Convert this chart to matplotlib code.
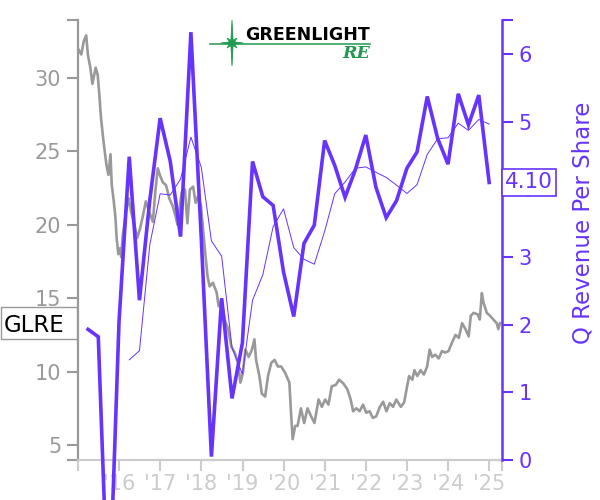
import numpy as np
import pandas as pd
import matplotlib
matplotlib.use("Agg")
import matplotlib.pyplot as plt
from matplotlib.patches import Polygon, Rectangle
from matplotlib.transforms import blended_transform_factory

# ---------------- data ----------------
ticker = "GLRE"

# closing price (decimal year, price)
price_dates = [
    2015.00, 2015.08, 2015.14, 2015.20, 2015.24, 2015.30, 2015.35, 2015.43, 2015.48, 2015.52,
    2015.56, 2015.62, 2015.69, 2015.74, 2015.79, 2015.82, 2015.87, 2015.91, 2015.94, 2015.98,
    2016.02, 2016.05, 2016.09, 2016.17, 2016.23, 2016.29, 2016.37, 2016.44, 2016.51, 2016.57,
    2016.65, 2016.73, 2016.82, 2016.88, 2016.94, 2016.99, 2017.06, 2017.14, 2017.22, 2017.30,
    2017.38, 2017.42, 2017.48, 2017.52, 2017.60, 2017.66, 2017.72, 2017.80, 2017.86, 2017.92,
    2017.99, 2018.04, 2018.10, 2018.15, 2018.20, 2018.28, 2018.37, 2018.42, 2018.49, 2018.57,
    2018.65, 2018.73, 2018.81, 2018.89, 2018.95, 2019.01, 2019.07, 2019.15, 2019.23, 2019.29,
    2019.33, 2019.41, 2019.47, 2019.55, 2019.62, 2019.70, 2019.78, 2019.86, 2019.94, 2020.04,
    2020.14, 2020.18, 2020.22, 2020.28, 2020.34, 2020.42, 2020.50, 2020.58, 2020.67, 2020.75,
    2020.85, 2020.93, 2021.01, 2021.09, 2021.17, 2021.27, 2021.35, 2021.45, 2021.55, 2021.63,
    2021.69, 2021.77, 2021.85, 2021.93, 2022.01, 2022.09, 2022.17, 2022.25, 2022.34, 2022.42,
    2022.50, 2022.58, 2022.66, 2022.74, 2022.85, 2022.93, 2022.99, 2023.05, 2023.13, 2023.18,
    2023.25, 2023.33, 2023.41, 2023.49, 2023.55, 2023.61, 2023.69, 2023.77, 2023.85, 2023.93,
    2024.01, 2024.09, 2024.18, 2024.26, 2024.34, 2024.42, 2024.50, 2024.55, 2024.62, 2024.72,
    2024.77, 2024.82, 2024.86, 2024.94, 2025.02, 2025.10, 2025.18, 2025.22, 2025.26,
]
price_values = [
    32.0, 31.6, 32.5, 32.9, 31.6, 30.7, 29.6, 30.7, 30.2, 28.8,
    27.25, 25.7, 24.1, 23.4, 24.8, 22.75, 21.6, 20.5, 19.1, 18.0,
    18.4, 17.8, 19.3, 20.9, 21.8, 20.9, 20.0, 19.1, 19.75, 20.5,
    21.6, 20.9, 20.2, 22.25, 23.85, 23.4, 22.9, 22.7, 21.8, 21.3,
    20.5, 20.0, 21.3, 22.2, 22.4, 20.1, 22.4, 22.6, 21.5, 21.95,
    21.3, 19.7, 17.9, 16.5, 15.8, 16.05, 15.4, 14.45, 14.9, 13.5,
    12.9, 11.7, 11.3, 10.6, 9.25, 9.9, 11.5, 11.0, 11.5, 12.2,
    10.8, 9.7, 8.5, 8.3, 9.7, 10.6, 10.8, 10.35, 10.35, 9.9,
    9.25, 7.2, 5.4, 6.3, 6.3, 7.5, 6.5, 7.5, 6.95, 6.5,
    8.1, 7.6, 8.1, 7.75, 9.0, 9.1, 9.45, 9.2, 8.8, 8.1,
    7.3, 7.5, 7.3, 7.75, 7.2, 7.3, 6.85, 6.95, 7.6, 7.95,
    7.3, 7.85, 7.6, 8.1, 7.6, 7.9, 8.8, 9.7, 9.45, 10.1,
    9.7, 10.1, 9.8, 10.35, 11.5, 11.0, 11.15, 10.9, 11.4, 11.3,
    11.4, 11.95, 12.5, 12.3, 13.3, 12.9, 12.4, 13.8, 14.0, 13.9,
    13.55, 15.35, 14.7, 14.0, 13.8, 13.55, 13.3, 12.9, 13.3,
]

# quarterly revenue per share (quarter ends Mar 2015 .. Dec 2024)
quarter_ends = pd.date_range("2015-03-31", "2024-12-31", freq="QE")
q_revenue = [
    1.93, 1.82, -2.42, 2.04,
    4.48, 2.36, 3.84, 5.05,
    4.41, 3.30, 6.32, 3.28,
    0.05, 2.39, 0.91, 1.73,
    4.41, 3.89, 3.76, 2.78,
    2.12, 3.20, 3.47, 4.72,
    4.35, 3.88, 4.29, 4.80,
    4.03, 3.58, 3.83, 4.31,
    4.55, 5.37, 4.75, 4.37,
    5.41, 4.95, 5.39, 4.10,
]

year_ticks = [2016, 2017, 2018, 2019, 2020, 2021, 2022, 2023, 2024, 2025]
year_labels = ["'16", "'17", "'18", "'19", "'20", "'21", "'22", "'23", "'24", "'25"]
left_ticks = [5, 10, 15, 20, 25, 30]
right_ticks = [0, 1, 2, 3, 4, 5, 6]

# ---------------- styling ----------------
PURPLE = "#6633ff"
GREY = "#999999"
LIGHT = "#cccccc"
GREEN = "#1f9a4f"

x_min, x_max = 2015.0, 2025.31
yl_min, yl_max = 3.98, 33.95
yr_min, yr_max = 0.0, 6.5

def to_decimal_year(ts):
    ts = pd.DatetimeIndex(ts)
    start = pd.to_datetime(ts.year.astype(str) + "-01-01")
    end = pd.to_datetime((ts.year + 1).astype(str) + "-01-01")
    return ts.year + (ts - start) / (end - start)

q_x = np.asarray(to_decimal_year(quarter_ends), dtype=float)
q_ser = pd.Series(q_revenue)
q_avg = q_ser.rolling(4).mean()

fig = plt.figure(figsize=(6, 5), dpi=100)
ax = fig.add_axes([78 / 600, 40 / 500, 424 / 600, 440 / 500])
ax2 = ax.twinx()

ax.plot(price_dates, price_values, color=GREY, lw=1.9, zorder=2)
ax2.plot(q_x[4:], q_avg.values[4:], color=PURPLE, lw=0.7)
ax2.plot(q_x, q_revenue, color=PURPLE, lw=2.6, clip_on=False, solid_joinstyle="miter")

ax.set_xlim(x_min, x_max)
ax.set_ylim(yl_min, yl_max)
ax2.set_ylim(yr_min, yr_max)

# ticks (including ends of axes, unlabeled)
ax.set_xticks([x_min] + year_ticks + [x_max])
ax.set_xticklabels([""] + year_labels + [""])
ax.set_yticks([yl_min] + left_ticks + [yl_max])
ax.set_yticklabels([""] + [str(v) for v in left_ticks] + [""])
ax2.set_yticks(right_ticks + [yr_max])
ax2.set_yticklabels([str(v) for v in right_ticks] + [""])

ax.tick_params(axis="x", colors=LIGHT, labelcolor=LIGHT, length=8, width=1.5,
               labelsize=15, pad=2)
ax.tick_params(axis="y", colors=GREY, labelcolor=GREY, length=8, width=1.5,
               labelsize=15, pad=4)
ax2.tick_params(axis="y", colors=PURPLE, labelcolor=PURPLE, length=8, width=1.5,
                labelsize=15, pad=4)

for a in (ax, ax2):
    a.spines["top"].set_visible(False)
ax.spines["right"].set_visible(False)
ax2.spines["left"].set_visible(False)
ax2.spines["bottom"].set_visible(False)
ax.spines["left"].set_color(GREY)
ax.spines["left"].set_linewidth(1.6)
ax.spines["bottom"].set_color(LIGHT)
ax.spines["bottom"].set_linewidth(1.6)
ax2.spines["right"].set_color(PURPLE)
ax2.spines["right"].set_linewidth(1.8)

ax2.set_ylabel("Q Revenue Per Share", color=PURPLE, fontsize=16.5)
ax2.yaxis.set_label_coords(1.165, 0.54)

# value labels
tr_left = blended_transform_factory(fig.transFigure, ax.transData)
box_h = 2.18
rect = Rectangle((0.002, price_values[-1] - box_h / 2), 76 / 600, box_h,
                 transform=tr_left, fc="white", ec=GREY, lw=1, zorder=9, clip_on=False)
fig.add_artist(rect)
fig.text(0.006, 0, ticker, transform=tr_left, ha="left", va="center_baseline",
         fontsize=16.5, color="black", zorder=10).set_y(price_values[-1])

tr_right = blended_transform_factory(ax2.transAxes, ax2.transData)
ax2.text(1.008, q_revenue[-1], f"{q_revenue[-1]:.2f}", transform=tr_right, ha="left",
         va="center", fontsize=15.5, color=PURPLE, zorder=10, clip_on=False,
         bbox=dict(boxstyle="square,pad=0.15", fc="white", ec=PURPLE, lw=1.2))

# logo
def fx(px):
    return px / 600
def fy(py):
    return 1 - py / 500

fig.add_artist(plt.Line2D([fx(210), fx(370)], [fy(44), fy(44)], color=GREEN, lw=1.1,
                          transform=fig.transFigure))
cx, cy = 232, 43
pts = []
for k in range(8):
    ang = np.pi / 2 - k * np.pi / 4
    outer = 23 if k % 4 == 0 else (11 if k % 2 == 0 else 7)
    pts.append((cx + outer * np.cos(ang), cy - outer * np.sin(ang)))
    ang2 = ang - np.pi / 8
    pts.append((cx + 2.8 * np.cos(ang2), cy - 2.8 * np.sin(ang2)))
star = Polygon([(fx(px), fy(py)) for px, py in pts], closed=True, fc=GREEN, ec=GREEN,
               lw=0.6, transform=fig.transFigure)
fig.add_artist(star)
fig.text(fx(245), fy(35), "GREENLIGHT", fontsize=12.5, fontweight="heavy", color="black",
         ha="left", va="center")
fig.text(fx(370), fy(53), "RE", fontsize=12.5, fontweight="bold", fontstyle="italic",
         family="DejaVu Serif", color=GREEN, ha="right", va="center")

fig.savefig("out.png", dpi=100)
